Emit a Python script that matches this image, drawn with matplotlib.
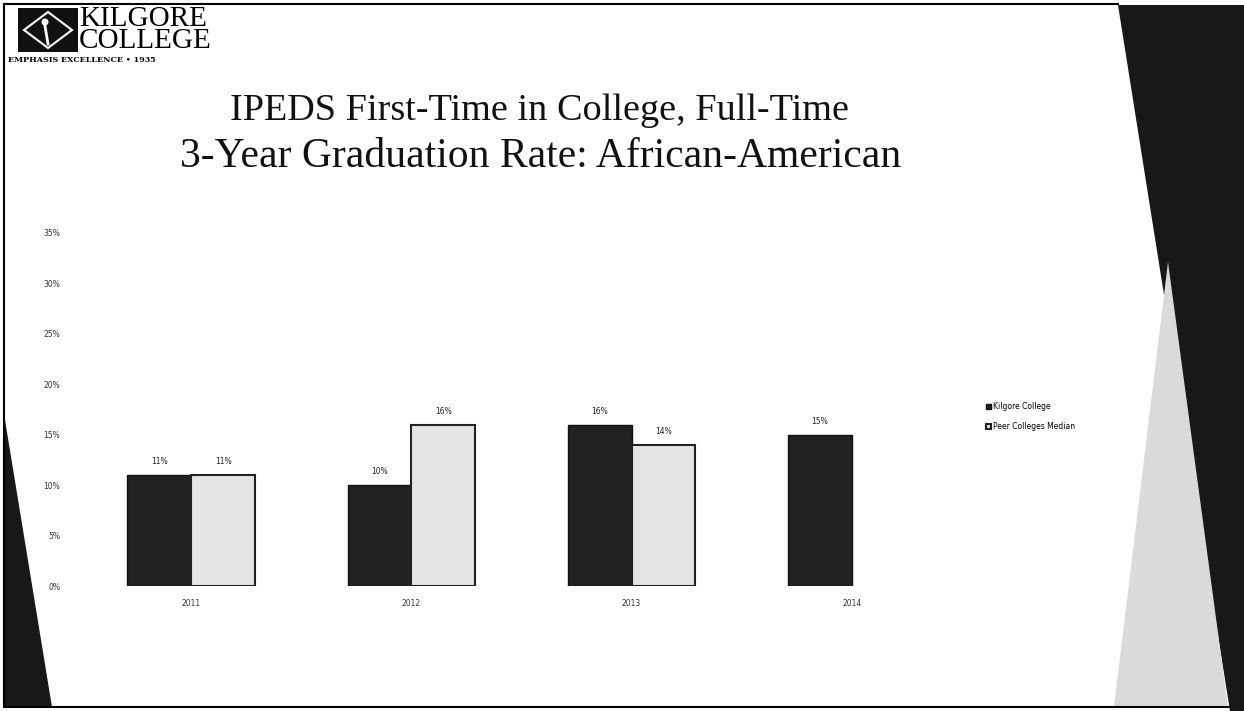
import numpy as np
import matplotlib.pyplot as plt
from matplotlib.patches import Polygon, Rectangle, Circle

# graduation rates (%) by cohort year
years = ['2011', '2012', '2013', '2014']
kilgore = [11, 10, 16, 15]
peer_median = [11, 16, 14, np.nan]
series_names = ['Kilgore College', 'Peer Colleges Median']
y_ticks = [0, 5, 10, 15, 20, 25, 30, 35]

W, H = 1244, 711
fig = plt.figure(figsize=(W / 100, H / 100), dpi=100)
fig.patch.set_facecolor('white')

# slide background in pixel coordinates
bg = fig.add_axes([0, 0, 1, 1], zorder=0)
bg.set_xlim(0, W)
bg.set_ylim(H, 0)
bg.axis('off')

bg.add_patch(Polygon([(1118, 5), (W, 5), (W, H), (1230, H)], closed=True,
                     facecolor='#181818', edgecolor='none'))
bg.add_patch(Polygon([(1168, 262), (1114, 707), (1228, 707)], closed=True,
                     facecolor='#dadada', edgecolor='none'))
bg.add_patch(Polygon([(5, 420), (5, 707), (52, 707)], closed=True,
                     facecolor='#181818', edgecolor='none'))
bg.plot([4, 1118], [4, 4], color='black', lw=1.5)
bg.plot([4, 4], [4, 707], color='black', lw=1.5)
bg.plot([4, 1230], [707, 707], color='black', lw=1.5)

# college logo
bg.add_patch(Rectangle((18, 8), 60, 44, facecolor='#111111', edgecolor='none'))
bg.add_patch(Polygon([(48, 12), (72, 30), (48, 48), (24, 30)], closed=True,
                     facecolor='none', edgecolor='white', lw=1.5))
bg.add_patch(Circle((45, 22), 3.5, facecolor='white', edgecolor='none'))
bg.plot([45, 48], [26, 44], color='white', lw=2)
bg.text(79, 30, 'KILGORE\nCOLLEGE', fontsize=21, family='Liberation Serif',
        ha='left', va='center', linespacing=0.82, color='black')
bg.text(8, 60, 'EMPHASIS EXCELLENCE \u2022 1935', fontsize=5.8,
        family='DejaVu Serif', weight='bold', ha='left', va='center',
        color='black')

# title
bg.text(540, 111, 'IPEDS First-Time in College, Full-Time', fontsize=27.5,
        family='Liberation Serif', ha='center', va='center', color='#111111')
bg.text(541, 157, '3-Year Graduation Rate: African-American', fontsize=30,
        family='Liberation Serif', ha='center', va='center', color='#111111')

# bar chart
ax = fig.add_axes([81 / W, 1 - 586 / H, 881 / W, 353 / H], zorder=2)
ax.patch.set_alpha(0)
x = np.arange(len(years))
bw = 0.29
b1 = ax.bar(x - bw / 2, kilgore, bw, color='#222222', edgecolor='#111111',
            linewidth=1, label=series_names[0])
b2 = ax.bar(x + bw / 2, peer_median, bw, color='#e4e4e4', edgecolor='#222222',
            linewidth=1.5, label=series_names[1])

for bars, vals in [(b1, kilgore), (b2, peer_median)]:
    for rect, v in zip(bars, vals):
        if np.isnan(v):
            continue
        ax.text(rect.get_x() + rect.get_width() / 2, v + 0.9, f'{v:.0f}%',
                ha='center', va='bottom', fontsize=5.5, color='#222222')

ax.set_xlim(-0.5, len(years) - 0.5)
ax.set_ylim(0, 35)
ax.set_yticks(y_ticks)
ax.set_yticklabels([f'{t}%' for t in y_ticks], fontsize=5.5, color='#333333')
ax.set_xticks(x)
ax.set_xticklabels(years, fontsize=5.5, color='#333333')
ax.tick_params(axis='y', length=0, pad=15)
ax.tick_params(axis='x', length=0, pad=9)
for s in ax.spines.values():
    s.set_visible(False)

leg = ax.legend(loc='upper left', bbox_to_anchor=(1.02, 0.54), frameon=False,
                fontsize=5.5, handlelength=0.6, handleheight=0.6,
                handletextpad=0.2, labelspacing=1.4)

fig.savefig('out.png', dpi=100)
